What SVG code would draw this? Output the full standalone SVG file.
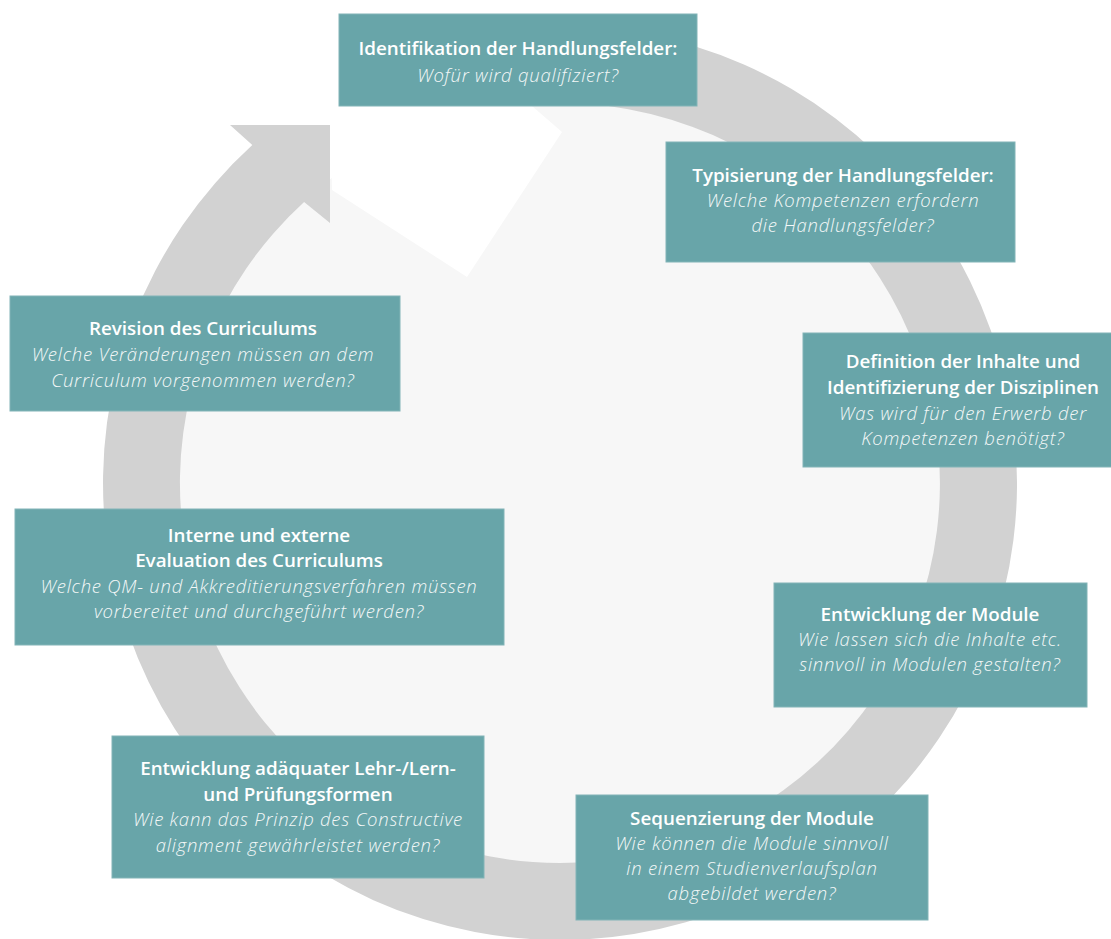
<svg xmlns="http://www.w3.org/2000/svg" width="1111" height="939" viewBox="0 0 1111 939">
  <style>
    .box { fill: #68a5a9; stroke: #82b4b7; stroke-width: 1; }
    .t { font-family: "Open Sans", "Liberation Sans", sans-serif; fill: #ffffff; text-anchor: middle; }
    .h { font-size: 18.8px; font-weight: 540; }
    .q { font-size: 18.5px; font-weight: 300; font-style: italic; letter-spacing: 0.75px; fill: #f4f8f8; }
  </style>

  <rect width="1111" height="939" fill="#ffffff"/>

  <!-- cycle background: light disc, cut-out and circular arrow -->
  <g id="cycle">
    <circle cx="560" cy="483" r="381" fill="#f7f7f7"/>
    <polygon points="330,100 525,100 562,132 467,277 332,190" fill="#ffffff"/>
    <path d="M 536.1 26.6 A 457 457 0 1 1 252.3 145.1 L 230 125 L 330 125 L 330 223 L 304.1 202 A 380 380 0 1 0 540.1 103.5 Z" fill="#d2d2d2"/>
  </g>

  <g id="connectors"></g>

  <g id="node1">
    <rect class="box" x="339" y="14" width="358" height="92"/>
    <text class="t h" x="518" y="55">Identifikation der Handlungsfelder:</text>
    <text class="t q" x="518" y="82">Wofür wird qualifiziert?</text>
  </g>

  <g id="node2">
    <rect class="box" x="666" y="142" width="349" height="120"/>
    <text class="t h" x="843" y="182">Typisierung der Handlungsfelder:</text>
    <text class="t q" x="843" y="207">Welche Kompetenzen erfordern</text>
    <text class="t q" x="843" y="232">die Handlungsfelder?</text>
  </g>

  <g id="node3">
    <rect class="box" x="803" y="333" width="322" height="134"/>
    <text class="t h" x="963" y="368">Definition der Inhalte und</text>
    <text class="t h" x="963" y="394">Identifizierung der Disziplinen</text>
    <text class="t q" x="963" y="420">Was wird für den Erwerb der</text>
    <text class="t q" x="963" y="445">Kompetenzen benötigt?</text>
  </g>

  <g id="node4">
    <rect class="box" x="774" y="583" width="313" height="124"/>
    <text class="t h" x="930" y="621">Entwicklung der Module</text>
    <text class="t q" x="930" y="646">Wie lassen sich die Inhalte etc.</text>
    <text class="t q" x="930" y="671">sinnvoll in Modulen gestalten?</text>
  </g>

  <g id="node5">
    <rect class="box" x="576" y="795" width="352" height="125"/>
    <text class="t h" x="752" y="825">Sequenzierung der Module</text>
    <text class="t q" x="752" y="850">Wie können die Module sinnvoll</text>
    <text class="t q" x="752" y="875">in einem Studienverlaufsplan</text>
    <text class="t q" x="752" y="900">abgebildet werden?</text>
  </g>

  <g id="node6">
    <rect class="box" x="112" y="736" width="372" height="142"/>
    <text class="t h" x="298" y="775">Entwicklung adäquater Lehr-/Lern-</text>
    <text class="t h" x="298" y="801">und Prüfungsformen</text>
    <text class="t q" x="298" y="826">Wie kann das Prinzip des Constructive</text>
    <text class="t q" x="298" y="852">alignment gewährleistet werden?</text>
  </g>

  <g id="node7">
    <rect class="box" x="15" y="509" width="489" height="136"/>
    <text class="t h" x="259" y="542">Interne und externe</text>
    <text class="t h" x="259" y="567">Evaluation des Curriculums</text>
    <text class="t q" x="259" y="593">Welche QM- und Akkreditierungsverfahren müssen</text>
    <text class="t q" x="259" y="618">vorbereitet und durchgeführt werden?</text>
  </g>

  <g id="node8">
    <rect class="box" x="10" y="296" width="390" height="115"/>
    <text class="t h" x="203" y="335">Revision des Curriculums</text>
    <text class="t q" x="203" y="361">Welche Veränderungen müssen an dem</text>
    <text class="t q" x="203" y="387">Curriculum vorgenommen werden?</text>
  </g>
</svg>
